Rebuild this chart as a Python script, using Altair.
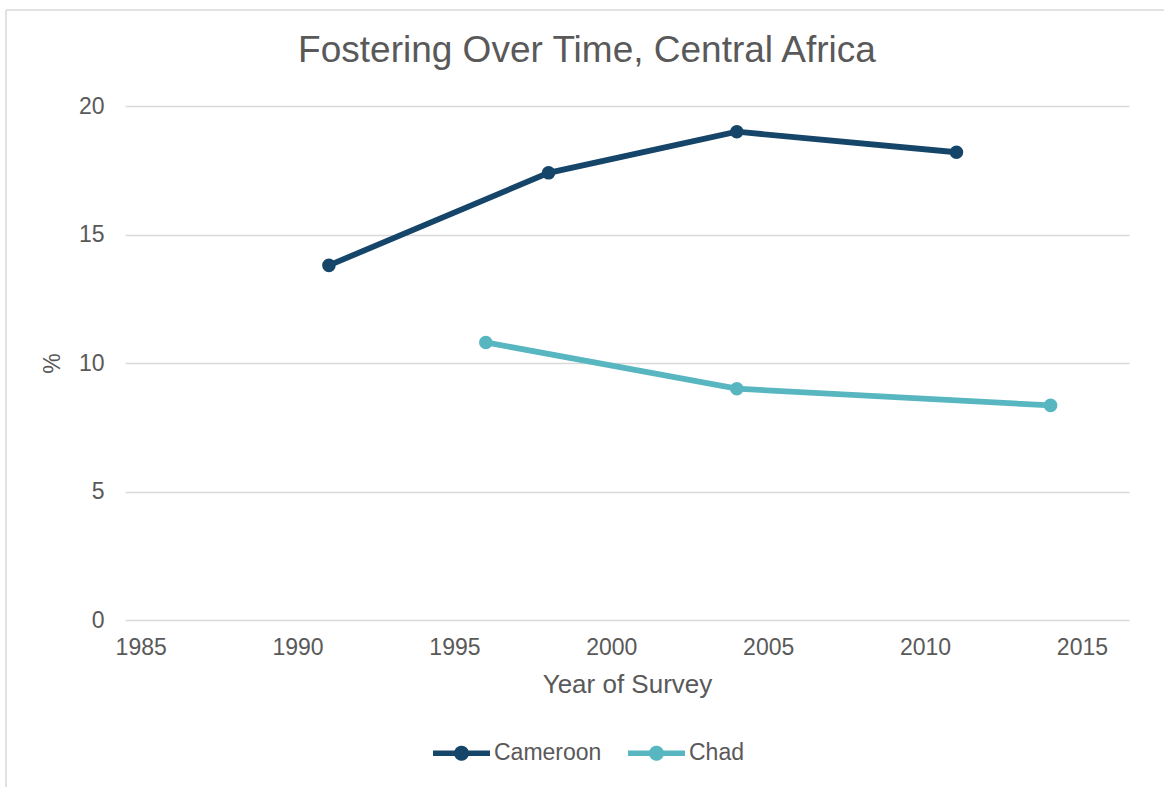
import altair as alt
import pandas as pd
import numpy as np

# ---- data ----
cameroon_years = [1991, 1998, 2004, 2011]
cameroon_values = [13.8, 17.4, 19.0, 18.2]
chad_years = [1996, 2004, 2014]
chad_values = [10.8, 9.0, 8.35]

series_names = ["Cameroon", "Chad"]
series_colors = ["#16456a", "#57b6c0"]
x_ticks = [1985, 1990, 1995, 2000, 2005, 2010, 2015]
y_ticks = [0, 5, 10, 15, 20]

df = pd.DataFrame({
    "country": ["Cameroon"] * len(cameroon_years) + ["Chad"] * len(chad_years),
    "year": cameroon_years + chad_years,
    "value": cameroon_values + chad_values,
})

TXT = "#595959"
FONT = "Liberation Sans"

# legend symbol: a thick line with a dot in the middle (unit coordinates)
h, r = 0.0965, 0.263
a = np.arcsin(h / r)
top = np.linspace(-np.pi + a, -a, 16)
bot = np.linspace(a, np.pi - a, 16)
pts = [f"M-1,{-h:.4f}"]
pts += [f"L{r*np.cos(t):.4f},{r*np.sin(t):.4f}" for t in top]
pts += [f"L1,{-h:.4f}", f"L1,{h:.4f}"]
pts += [f"L{r*np.cos(t):.4f},{r*np.sin(t):.4f}" for t in bot]
pts += [f"L-1,{h:.4f}", "Z"]
legend_path = "".join(pts)

W, H = 1004, 514
PL, PT = 125, 106

legend = alt.Legend(title=None, orient="none", direction="horizontal",
                    legendX=433 - PL, legendY=753 - 28.5 - PT,
                    symbolType=legend_path, symbolSize=57 * 57,
                    symbolStrokeWidth=0, symbolOpacity=1,
                    labelFontSize=23, labelColor=TXT,
                    labelFont=FONT, labelOffset=4, columnPadding=26)

color = alt.Color("country:N",
                  scale=alt.Scale(domain=series_names, range=series_colors),
                  legend=legend)

x_enc = alt.X("year:Q",
              scale=alt.Scale(domain=[1984.5, 2016.5], nice=False, zero=False),
              axis=alt.Axis(values=x_ticks, format="d", title="Year of Survey",
                            grid=False, domain=False, ticks=False,
                            labelFontSize=23, labelColor=TXT, labelFont=FONT,
                            labelPadding=16, titleFontSize=26, titleColor=TXT,
                            titleFont=FONT, titleFontWeight="normal",
                            titlePadding=12))
y_enc = alt.Y("value:Q",
              scale=alt.Scale(domain=[0, 20], nice=False),
              axis=alt.Axis(values=y_ticks, title="%", grid=True,
                            gridColor="#d9d9d9", gridWidth=1.5,
                            domain=False, ticks=False,
                            labelFontSize=23, labelColor=TXT, labelFont=FONT,
                            labelPadding=21, titleFontSize=23, titleColor=TXT,
                            titleFont=FONT, titleFontWeight="normal",
                            titlePadding=14))

base = alt.Chart(df).encode(x=x_enc, y=y_enc, color=color)

points = base.mark_circle(size=185, opacity=1)
lines = base.mark_line(strokeWidth=5.8)

frame = pd.DataFrame({"k": [0]})
top_rule = alt.Chart(frame).mark_rule(color="#d9d9d9", strokeWidth=1.5).encode(
    x=alt.value(6 - PL), x2=alt.value(1164 - PL), y=alt.value(10 - PT))
left_rule = alt.Chart(frame).mark_rule(color="#d9d9d9", strokeWidth=1.5).encode(
    x=alt.value(6 - PL), y=alt.value(10 - PT), y2=alt.value(787 - PT))

chart = alt.layer(top_rule, left_rule, points, lines).properties(
    width=W, height=H,
    title=alt.TitleParams("Fostering Over Time, Central Africa",
                          fontSize=37, color=TXT, font=FONT,
                          fontWeight="normal", anchor="middle", dx=-40,
                          baseline="alphabetic", offset=-90),
    autosize=alt.AutoSizeParams(type="none"),
    padding={"left": PL, "top": PT, "right": 1164 - PL - W, "bottom": 787 - PT - H},
).configure(background="white").configure_view(stroke=None)

chart.save("out.html", embed_options={"renderer": "svg", "actions": False})
